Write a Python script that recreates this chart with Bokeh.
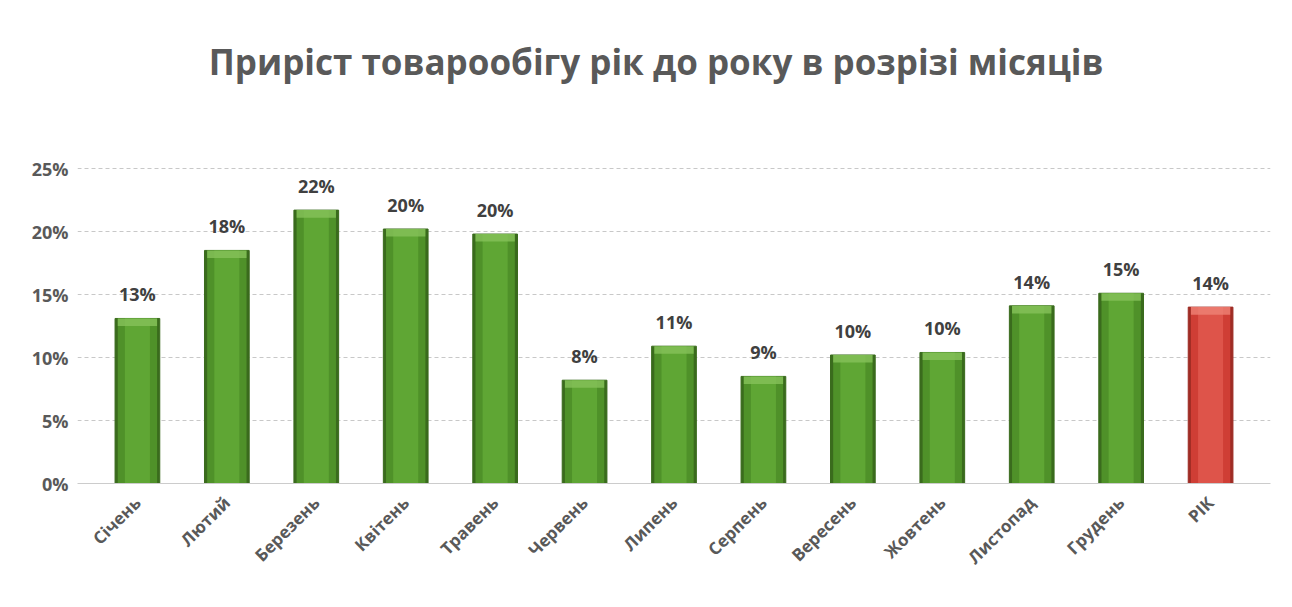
import math
from bokeh.plotting import figure
from bokeh.models import ColumnDataSource, NumeralTickFormatter, Range1d, FactorRange
from bokeh.core.properties import value
from bokeh.embed import file_html
from bokeh.resources import INLINE

months = ["Січень", "Лютий", "Березень", "Квітень", "Травень", "Червень", "Липень",
          "Серпень", "Вересень", "Жовтень", "Листопад", "Грудень", "РІК"]
growth = [0.131, 0.185, 0.217, 0.202, 0.198, 0.082, 0.109, 0.085, 0.102, 0.104, 0.141, 0.151, 0.140]
labels = ["13%", "18%", "22%", "20%", "20%", "8%", "11%", "9%", "10%", "10%", "14%", "15%", "14%"]
y_ticks = [0, 0.05, 0.10, 0.15, 0.20, 0.25]
title_text = "Приріст товарообігу рік до року в розрізі місяців"

FONT = "Open Sans"

outer = ["#3a6b1d"] * 12 + ["#9e2c24"]
mid = ["#4f9129"] * 12 + ["#cf3e35"]
inner = ["#5fa634"] * 12 + ["#de544a"]
cap = ["#86c25a"] * 12 + ["#ee8275"]
cap_bottom = [v - 0.006 for v in growth]

src = ColumnDataSource(dict(m=months, v=growth, lab=labels, outer=outer, mid=mid,
                            inner=inner, cap=cap, cb=cap_bottom))

p = figure(width=1276, height=591,
           x_range=FactorRange(*months, range_padding=0.17, range_padding_units="absolute"),
           y_range=Range1d(0, 0.3675),
           output_backend="svg", toolbar_location=None,
           min_border_left=77, min_border_right=6, min_border_top=20, min_border_bottom=108)

p.vbar(x="m", top="v", width=0.5, source=src, fill_color="outer", line_color="outer")
p.vbar(x="m", top="v", width=0.44, source=src, fill_color="mid", line_color=None)
p.vbar(x="m", top="v", width=0.28, source=src, fill_color="inner", line_color=None)
p.vbar(x="m", top="v", bottom="cb", width=0.44, source=src, fill_color="cap", line_color=None,
       fill_alpha=0.8)

p.text(x="m", y="v", text="lab", source=src, text_align="center", text_baseline="bottom",
       y_offset=-12, text_font=value(FONT), text_font_size="18px", text_font_style="bold",
       text_color="#404040")

# chart title, drawn as SVG text in the empty band above the 25% line
p.text(x=[6.30], y=[0.335], text=[title_text], text_align="center", text_baseline="middle",
       text_font=value(FONT), text_font_size="35px", text_font_style="bold",
       text_color="#595959")

p.yaxis.ticker = y_ticks
p.yaxis.formatter = NumeralTickFormatter(format="0%")
p.yaxis.axis_line_color = None
p.yaxis.major_tick_line_color = None
p.yaxis.major_tick_out = 0
p.yaxis.major_tick_in = 0
p.yaxis.minor_tick_line_color = None
p.yaxis.major_label_text_font = FONT
p.yaxis.major_label_text_font_size = "18px"
p.yaxis.major_label_text_font_style = "bold"
p.yaxis.major_label_text_color = "#595959"
p.yaxis.major_label_standoff = 9

p.xaxis.axis_line_color = "#cccccc"
p.xaxis.major_tick_line_color = None
p.xaxis.major_tick_out = 0
p.xaxis.major_tick_in = 0
p.xaxis.minor_tick_line_color = None
p.xaxis.major_label_orientation = math.pi / 4
p.xaxis.major_label_text_font = FONT
p.xaxis.major_label_text_font_size = "17px"
p.xaxis.major_label_text_font_style = "bold"
p.xaxis.major_label_text_color = "#595959"
p.xaxis.major_label_standoff = 16

p.xgrid.grid_line_color = None
p.ygrid.ticker = y_ticks
p.ygrid.grid_line_color = "#c8c8c8"
p.ygrid.grid_line_dash = "4 3"
p.outline_line_color = None

open("out.html", "w").write(file_html(p, INLINE))
